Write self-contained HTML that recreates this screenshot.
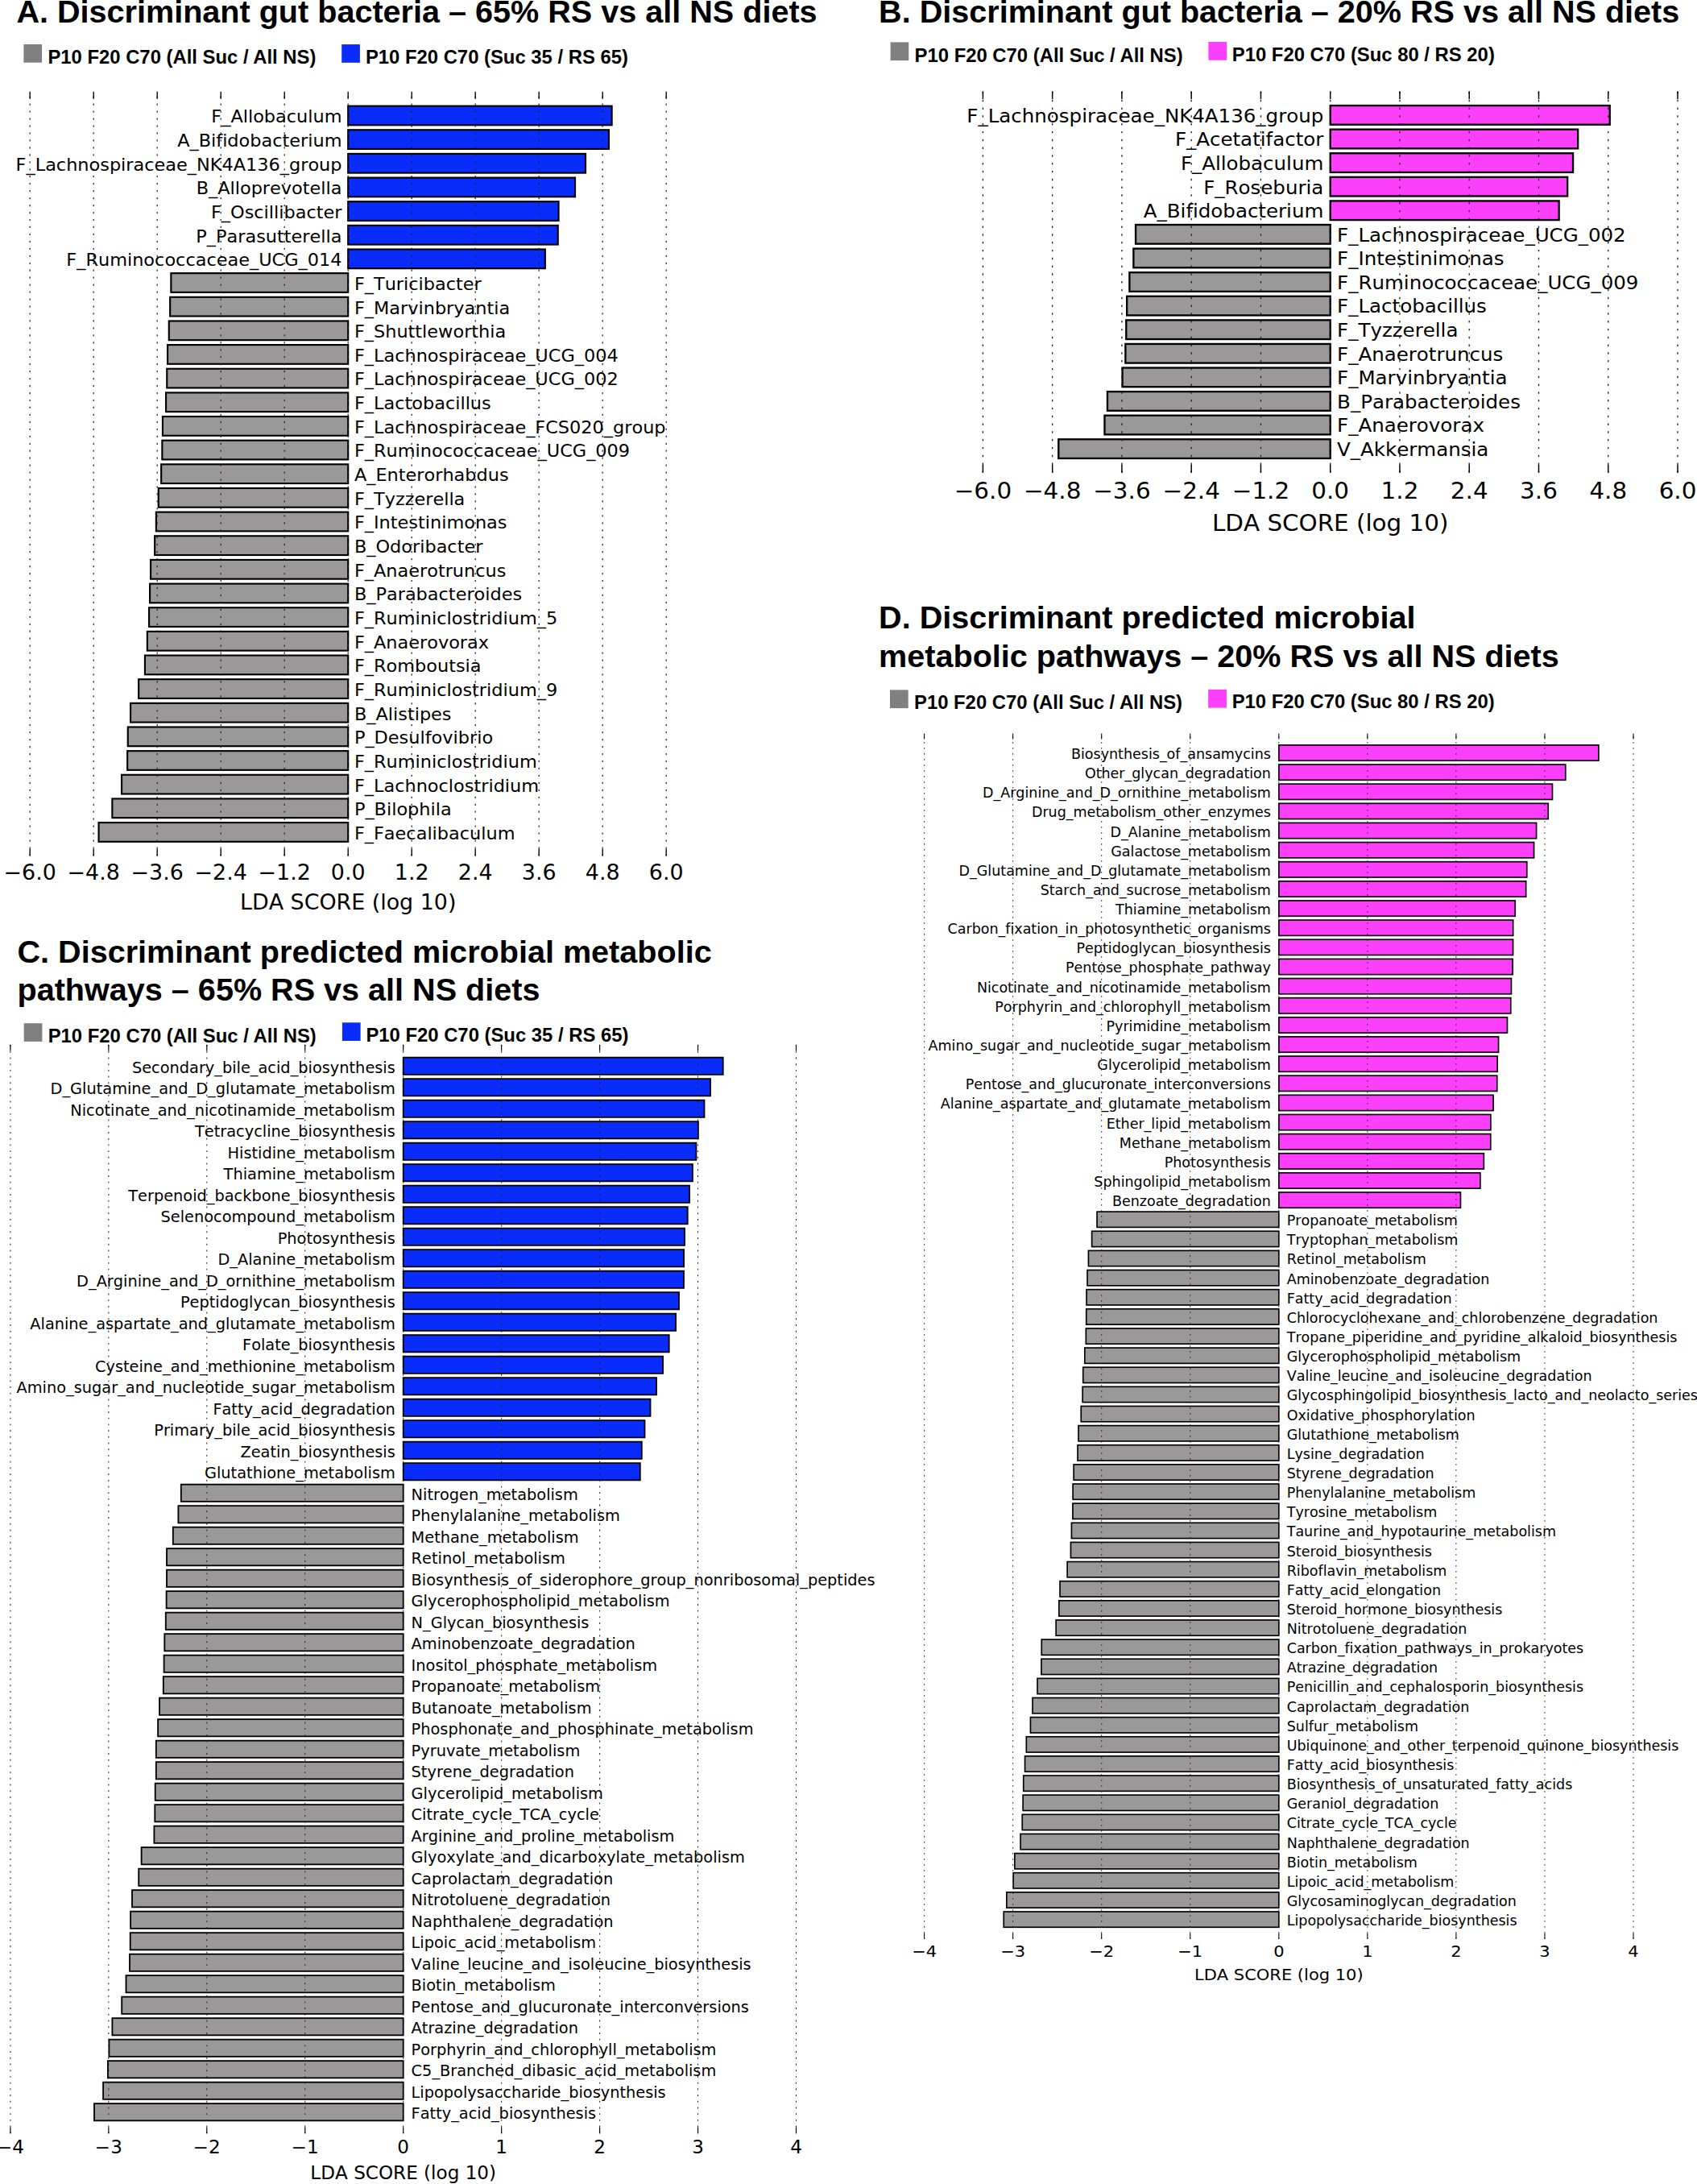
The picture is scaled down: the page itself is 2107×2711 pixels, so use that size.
<!DOCTYPE html>
<html lang="en"><head><meta charset="utf-8"><title>LEfSe discriminant gut bacteria and pathways</title>
<style>
html,body{margin:0;padding:0;background:#fff}
body{width:2107px;height:2711px;overflow:hidden}
svg{display:block}
.dv{font-family:"DejaVu Sans","Liberation Sans",sans-serif;fill:#000;font-kerning:none;font-variant-ligatures:none;font-feature-settings:"kern" 0,"liga" 0}
.ar{font-family:"Liberation Sans","DejaVu Sans",sans-serif;font-weight:bold;fill:#000}
</style></head><body>
<svg width="2107" height="2711" viewBox="0 0 2107 2711">
<rect width="2107" height="2711" fill="#fff"/>
<g stroke="#000" stroke-width="2.13"><rect x="432.2" y="131.59" width="327.44" height="23.72" fill="#0a2cfb"/><rect x="432.2" y="161.24" width="323.74" height="23.72" fill="#0a2cfb"/><rect x="432.2" y="190.89" width="294.84" height="23.72" fill="#0a2cfb"/><rect x="432.2" y="220.54" width="281.84" height="23.72" fill="#0a2cfb"/><rect x="432.2" y="250.19" width="261.34" height="23.72" fill="#0a2cfb"/><rect x="432.2" y="279.84" width="260.54" height="23.72" fill="#0a2cfb"/><rect x="432.2" y="309.49" width="244.64" height="23.72" fill="#0a2cfb"/><rect x="212.36" y="339.14" width="219.84" height="23.72" fill="#9a9898"/><rect x="211.16" y="368.79" width="221.04" height="23.72" fill="#9a9898"/><rect x="209.76" y="398.44" width="222.44" height="23.72" fill="#9a9898"/><rect x="208.06" y="428.09" width="224.14" height="23.72" fill="#9a9898"/><rect x="207.26" y="457.74" width="224.94" height="23.72" fill="#9a9898"/><rect x="206.06" y="487.39" width="226.14" height="23.72" fill="#9a9898"/><rect x="201.96" y="517.04" width="230.24" height="23.72" fill="#9a9898"/><rect x="201.36" y="546.69" width="230.84" height="23.72" fill="#9a9898"/><rect x="200.16" y="576.34" width="232.04" height="23.72" fill="#9a9898"/><rect x="196.76" y="605.99" width="235.44" height="23.72" fill="#9a9898"/><rect x="193.86" y="635.64" width="238.34" height="23.72" fill="#9a9898"/><rect x="192.16" y="665.29" width="240.04" height="23.72" fill="#9a9898"/><rect x="187.06" y="694.94" width="245.14" height="23.72" fill="#9a9898"/><rect x="186.06" y="724.59" width="246.14" height="23.72" fill="#9a9898"/><rect x="185.06" y="754.24" width="247.14" height="23.72" fill="#9a9898"/><rect x="182.86" y="783.89" width="249.34" height="23.72" fill="#9a9898"/><rect x="179.96" y="813.54" width="252.24" height="23.72" fill="#9a9898"/><rect x="172.16" y="843.19" width="260.04" height="23.72" fill="#9a9898"/><rect x="162.06" y="872.84" width="270.14" height="23.72" fill="#9a9898"/><rect x="158.76" y="902.49" width="273.44" height="23.72" fill="#9a9898"/><rect x="158.16" y="932.14" width="274.04" height="23.72" fill="#9a9898"/><rect x="151.06" y="961.79" width="281.14" height="23.72" fill="#9a9898"/><rect x="139.36" y="991.44" width="292.84" height="23.72" fill="#9a9898"/><rect x="122.56" y="1021.09" width="309.64" height="23.72" fill="#9a9898"/></g>
<path d="M37.2 1062.6V113.8M116.2 1062.6V113.8M195.2 1062.6V113.8M274.2 1062.6V113.8M353.2 1062.6V113.8M432.2 1062.6V113.8M511.2 1062.6V113.8M590.2 1062.6V113.8M669.2 1062.6V113.8M748.2 1062.6V113.8M827.2 1062.6V113.8" stroke="#222" stroke-width="1.23" stroke-dasharray="2.24 6.72" fill="none"/>
<path d="M37.2 1062.6v-8.96M37.2 113.8v8.96M116.2 1062.6v-8.96M116.2 113.8v8.96M195.2 1062.6v-8.96M195.2 113.8v8.96M274.2 1062.6v-8.96M274.2 113.8v8.96M353.2 1062.6v-8.96M353.2 113.8v8.96M432.2 1062.6v-8.96M432.2 113.8v8.96M511.2 1062.6v-8.96M511.2 113.8v8.96M590.2 1062.6v-8.96M590.2 113.8v8.96M669.2 1062.6v-8.96M669.2 113.8v8.96M748.2 1062.6v-8.96M748.2 113.8v8.96M827.2 1062.6v-8.96M827.2 113.8v8.96" stroke="#000" stroke-width="1.34" fill="none"/>
<text class="dv" transform="translate(424.5 152.34) scale(1.0395 1)" font-size="21.55" text-anchor="end">F_Allobaculum</text><text class="dv" transform="translate(424.5 182) scale(1.0395 1)" font-size="21.55" text-anchor="end">A_Bifidobacterium</text><text class="dv" transform="translate(424.5 211.65) scale(1.0395 1)" font-size="21.55" text-anchor="end">F_Lachnospiraceae_NK4A136_group</text><text class="dv" transform="translate(424.5 241.29) scale(1.0395 1)" font-size="21.55" text-anchor="end">B_Alloprevotella</text><text class="dv" transform="translate(424.5 270.94) scale(1.0395 1)" font-size="21.55" text-anchor="end">F_Oscillibacter</text><text class="dv" transform="translate(424.5 300.59) scale(1.0395 1)" font-size="21.55" text-anchor="end">P_Parasutterella</text><text class="dv" transform="translate(424.5 330.24) scale(1.0395 1)" font-size="21.55" text-anchor="end">F_Ruminococcaceae_UCG_014</text><text class="dv" transform="translate(439.9 359.89) scale(1.0395 1)" font-size="21.55" text-anchor="start">F_Turicibacter</text><text class="dv" transform="translate(439.9 389.54) scale(1.0395 1)" font-size="21.55" text-anchor="start">F_Marvinbryantia</text><text class="dv" transform="translate(439.9 419.19) scale(1.0395 1)" font-size="21.55" text-anchor="start">F_Shuttleworthia</text><text class="dv" transform="translate(439.9 448.84) scale(1.0395 1)" font-size="21.55" text-anchor="start">F_Lachnospiraceae_UCG_004</text><text class="dv" transform="translate(439.9 478.49) scale(1.0395 1)" font-size="21.55" text-anchor="start">F_Lachnospiraceae_UCG_002</text><text class="dv" transform="translate(439.9 508.14) scale(1.0395 1)" font-size="21.55" text-anchor="start">F_Lactobacillus</text><text class="dv" transform="translate(439.9 537.79) scale(1.0395 1)" font-size="21.55" text-anchor="start">F_Lachnospiraceae_FCS020_group</text><text class="dv" transform="translate(439.9 567.44) scale(1.0395 1)" font-size="21.55" text-anchor="start">F_Ruminococcaceae_UCG_009</text><text class="dv" transform="translate(439.9 597.09) scale(1.0395 1)" font-size="21.55" text-anchor="start">A_Enterorhabdus</text><text class="dv" transform="translate(439.9 626.74) scale(1.0395 1)" font-size="21.55" text-anchor="start">F_Tyzzerella</text><text class="dv" transform="translate(439.9 656.39) scale(1.0395 1)" font-size="21.55" text-anchor="start">F_Intestinimonas</text><text class="dv" transform="translate(439.9 686.04) scale(1.0395 1)" font-size="21.55" text-anchor="start">B_Odoribacter</text><text class="dv" transform="translate(439.9 715.69) scale(1.0395 1)" font-size="21.55" text-anchor="start">F_Anaerotruncus</text><text class="dv" transform="translate(439.9 745.34) scale(1.0395 1)" font-size="21.55" text-anchor="start">B_Parabacteroides</text><text class="dv" transform="translate(439.9 774.99) scale(1.0395 1)" font-size="21.55" text-anchor="start">F_Ruminiclostridium_5</text><text class="dv" transform="translate(439.9 804.64) scale(1.0395 1)" font-size="21.55" text-anchor="start">F_Anaerovorax</text><text class="dv" transform="translate(439.9 834.29) scale(1.0395 1)" font-size="21.55" text-anchor="start">F_Romboutsia</text><text class="dv" transform="translate(439.9 863.94) scale(1.0395 1)" font-size="21.55" text-anchor="start">F_Ruminiclostridium_9</text><text class="dv" transform="translate(439.9 893.59) scale(1.0395 1)" font-size="21.55" text-anchor="start">B_Alistipes</text><text class="dv" transform="translate(439.9 923.24) scale(1.0395 1)" font-size="21.55" text-anchor="start">P_Desulfovibrio</text><text class="dv" transform="translate(439.9 952.89) scale(1.0395 1)" font-size="21.55" text-anchor="start">F_Ruminiclostridium</text><text class="dv" transform="translate(439.9 982.54) scale(1.0395 1)" font-size="21.55" text-anchor="start">F_Lachnoclostridium</text><text class="dv" transform="translate(439.9 1012.19) scale(1.0395 1)" font-size="21.55" text-anchor="start">P_Bilophila</text><text class="dv" transform="translate(439.9 1041.85) scale(1.0395 1)" font-size="21.55" text-anchor="start">F_Faecalibaculum</text>
<text class="dv" transform="translate(37.2 1092) scale(1.0395 1)" font-size="25.86" text-anchor="middle">−6.0</text>
<text class="dv" transform="translate(116.2 1092) scale(1.0395 1)" font-size="25.86" text-anchor="middle">−4.8</text>
<text class="dv" transform="translate(195.2 1092) scale(1.0395 1)" font-size="25.86" text-anchor="middle">−3.6</text>
<text class="dv" transform="translate(274.2 1092) scale(1.0395 1)" font-size="25.86" text-anchor="middle">−2.4</text>
<text class="dv" transform="translate(353.2 1092) scale(1.0395 1)" font-size="25.86" text-anchor="middle">−1.2</text>
<text class="dv" transform="translate(432.2 1092) scale(1.0395 1)" font-size="25.86" text-anchor="middle">0.0</text>
<text class="dv" transform="translate(511.2 1092) scale(1.0395 1)" font-size="25.86" text-anchor="middle">1.2</text>
<text class="dv" transform="translate(590.2 1092) scale(1.0395 1)" font-size="25.86" text-anchor="middle">2.4</text>
<text class="dv" transform="translate(669.2 1092) scale(1.0395 1)" font-size="25.86" text-anchor="middle">3.6</text>
<text class="dv" transform="translate(748.2 1092) scale(1.0395 1)" font-size="25.86" text-anchor="middle">4.8</text>
<text class="dv" transform="translate(827.2 1092) scale(1.0395 1)" font-size="25.86" text-anchor="middle">6.0</text>
<text class="dv" transform="translate(432.2 1129) scale(1.0395 1)" font-size="25.86" text-anchor="middle">LDA SCORE (log 10)</text>
<g stroke="#000" stroke-width="2.33"><rect x="1651.7" y="131.05" width="347.04" height="23.67" fill="#fb3ffa"/><rect x="1651.7" y="160.64" width="307.44" height="23.67" fill="#fb3ffa"/><rect x="1651.7" y="190.23" width="301.34" height="23.67" fill="#fb3ffa"/><rect x="1651.7" y="219.82" width="294.44" height="23.67" fill="#fb3ffa"/><rect x="1651.7" y="249.41" width="283.94" height="23.67" fill="#fb3ffa"/><rect x="1410.06" y="279" width="241.64" height="23.67" fill="#9a9898"/><rect x="1407.36" y="308.59" width="244.34" height="23.67" fill="#9a9898"/><rect x="1402.36" y="338.18" width="249.34" height="23.67" fill="#9a9898"/><rect x="1399.16" y="367.77" width="252.54" height="23.67" fill="#9a9898"/><rect x="1398.26" y="397.36" width="253.44" height="23.67" fill="#9a9898"/><rect x="1397.36" y="426.95" width="254.34" height="23.67" fill="#9a9898"/><rect x="1393.56" y="456.54" width="258.14" height="23.67" fill="#9a9898"/><rect x="1374.96" y="486.13" width="276.74" height="23.67" fill="#9a9898"/><rect x="1371.46" y="515.72" width="280.24" height="23.67" fill="#9a9898"/><rect x="1314.26" y="545.31" width="337.44" height="23.67" fill="#9a9898"/></g>
<path d="M1220.4 586.74V113.3M1306.66 586.74V113.3M1392.92 586.74V113.3M1479.18 586.74V113.3M1565.44 586.74V113.3M1651.7 586.74V113.3M1737.96 586.74V113.3M1824.22 586.74V113.3M1910.48 586.74V113.3M1996.74 586.74V113.3M2083 586.74V113.3" stroke="#222" stroke-width="1.35" stroke-dasharray="2.45 7.35" fill="none"/>
<path d="M1220.4 586.74v-9.8M1220.4 113.3v9.8M1306.66 586.74v-9.8M1306.66 113.3v9.8M1392.92 586.74v-9.8M1392.92 113.3v9.8M1479.18 586.74v-9.8M1479.18 113.3v9.8M1565.44 586.74v-9.8M1565.44 113.3v9.8M1651.7 586.74v-9.8M1651.7 113.3v9.8M1737.96 586.74v-9.8M1737.96 113.3v9.8M1824.22 586.74v-9.8M1824.22 113.3v9.8M1910.48 586.74v-9.8M1910.48 113.3v9.8M1996.74 586.74v-9.8M1996.74 113.3v9.8M2083 586.74v-9.8M2083 113.3v9.8" stroke="#000" stroke-width="1.47" fill="none"/>
<text class="dv" transform="translate(1643.3 151.77) scale(1.0395 1)" font-size="23.57" text-anchor="end">F_Lachnospiraceae_NK4A136_group</text><text class="dv" transform="translate(1643.3 181.36) scale(1.0395 1)" font-size="23.57" text-anchor="end">F_Acetatifactor</text><text class="dv" transform="translate(1643.3 210.95) scale(1.0395 1)" font-size="23.57" text-anchor="end">F_Allobaculum</text><text class="dv" transform="translate(1643.3 240.54) scale(1.0395 1)" font-size="23.57" text-anchor="end">F_Roseburia</text><text class="dv" transform="translate(1643.3 270.13) scale(1.0395 1)" font-size="23.57" text-anchor="end">A_Bifidobacterium</text><text class="dv" transform="translate(1660.1 299.72) scale(1.0395 1)" font-size="23.57" text-anchor="start">F_Lachnospiraceae_UCG_002</text><text class="dv" transform="translate(1660.1 329.31) scale(1.0395 1)" font-size="23.57" text-anchor="start">F_Intestinimonas</text><text class="dv" transform="translate(1660.1 358.9) scale(1.0395 1)" font-size="23.57" text-anchor="start">F_Ruminococcaceae_UCG_009</text><text class="dv" transform="translate(1660.1 388.49) scale(1.0395 1)" font-size="23.57" text-anchor="start">F_Lactobacillus</text><text class="dv" transform="translate(1660.1 418.08) scale(1.0395 1)" font-size="23.57" text-anchor="start">F_Tyzzerella</text><text class="dv" transform="translate(1660.1 447.67) scale(1.0395 1)" font-size="23.57" text-anchor="start">F_Anaerotruncus</text><text class="dv" transform="translate(1660.1 477.26) scale(1.0395 1)" font-size="23.57" text-anchor="start">F_Marvinbryantia</text><text class="dv" transform="translate(1660.1 506.85) scale(1.0395 1)" font-size="23.57" text-anchor="start">B_Parabacteroides</text><text class="dv" transform="translate(1660.1 536.44) scale(1.0395 1)" font-size="23.57" text-anchor="start">F_Anaerovorax</text><text class="dv" transform="translate(1660.1 566.03) scale(1.0395 1)" font-size="23.57" text-anchor="start">V_Akkermansia</text>
<text class="dv" transform="translate(1220.4 618.5) scale(1.0395 1)" font-size="28.28" text-anchor="middle">−6.0</text>
<text class="dv" transform="translate(1306.66 618.5) scale(1.0395 1)" font-size="28.28" text-anchor="middle">−4.8</text>
<text class="dv" transform="translate(1392.92 618.5) scale(1.0395 1)" font-size="28.28" text-anchor="middle">−3.6</text>
<text class="dv" transform="translate(1479.18 618.5) scale(1.0395 1)" font-size="28.28" text-anchor="middle">−2.4</text>
<text class="dv" transform="translate(1565.44 618.5) scale(1.0395 1)" font-size="28.28" text-anchor="middle">−1.2</text>
<text class="dv" transform="translate(1651.7 618.5) scale(1.0395 1)" font-size="28.28" text-anchor="middle">0.0</text>
<text class="dv" transform="translate(1737.96 618.5) scale(1.0395 1)" font-size="28.28" text-anchor="middle">1.2</text>
<text class="dv" transform="translate(1824.22 618.5) scale(1.0395 1)" font-size="28.28" text-anchor="middle">2.4</text>
<text class="dv" transform="translate(1910.48 618.5) scale(1.0395 1)" font-size="28.28" text-anchor="middle">3.6</text>
<text class="dv" transform="translate(1996.74 618.5) scale(1.0395 1)" font-size="28.28" text-anchor="middle">4.8</text>
<text class="dv" transform="translate(2083 618.5) scale(1.0395 1)" font-size="28.28" text-anchor="middle">6.0</text>
<text class="dv" transform="translate(1651.7 659) scale(1.0395 1)" font-size="28.28" text-anchor="middle">LDA SCORE (log 10)</text>
<g stroke="#000" stroke-width="1.83"><rect x="500.7" y="1312.65" width="396.99" height="21.2" fill="#0a2cfb"/><rect x="500.7" y="1339.15" width="381.29" height="21.2" fill="#0a2cfb"/><rect x="500.7" y="1365.65" width="373.79" height="21.2" fill="#0a2cfb"/><rect x="500.7" y="1392.15" width="366.19" height="21.2" fill="#0a2cfb"/><rect x="500.7" y="1418.65" width="363.69" height="21.2" fill="#0a2cfb"/><rect x="500.7" y="1445.15" width="359.19" height="21.2" fill="#0a2cfb"/><rect x="500.7" y="1471.65" width="355.29" height="21.2" fill="#0a2cfb"/><rect x="500.7" y="1498.15" width="352.99" height="21.2" fill="#0a2cfb"/><rect x="500.7" y="1524.65" width="349.29" height="21.2" fill="#0a2cfb"/><rect x="500.7" y="1551.15" width="348.39" height="21.2" fill="#0a2cfb"/><rect x="500.7" y="1577.65" width="348.29" height="21.2" fill="#0a2cfb"/><rect x="500.7" y="1604.15" width="342.29" height="21.2" fill="#0a2cfb"/><rect x="500.7" y="1630.65" width="338.39" height="21.2" fill="#0a2cfb"/><rect x="500.7" y="1657.15" width="329.99" height="21.2" fill="#0a2cfb"/><rect x="500.7" y="1683.65" width="322.39" height="21.2" fill="#0a2cfb"/><rect x="500.7" y="1710.15" width="314.29" height="21.2" fill="#0a2cfb"/><rect x="500.7" y="1736.65" width="306.79" height="21.2" fill="#0a2cfb"/><rect x="500.7" y="1763.15" width="299.79" height="21.2" fill="#0a2cfb"/><rect x="500.7" y="1789.65" width="296.09" height="21.2" fill="#0a2cfb"/><rect x="500.7" y="1816.15" width="294.09" height="21.2" fill="#0a2cfb"/><rect x="224.81" y="1842.65" width="275.89" height="21.2" fill="#9a9898"/><rect x="221.41" y="1869.15" width="279.29" height="21.2" fill="#9a9898"/><rect x="214.81" y="1895.65" width="285.89" height="21.2" fill="#9a9898"/><rect x="207.01" y="1922.15" width="293.69" height="21.2" fill="#9a9898"/><rect x="207.01" y="1948.65" width="293.69" height="21.2" fill="#9a9898"/><rect x="206.61" y="1975.15" width="294.09" height="21.2" fill="#9a9898"/><rect x="205.81" y="2001.65" width="294.89" height="21.2" fill="#9a9898"/><rect x="204.31" y="2028.15" width="296.39" height="21.2" fill="#9a9898"/><rect x="203.61" y="2054.65" width="297.09" height="21.2" fill="#9a9898"/><rect x="202.81" y="2081.15" width="297.89" height="21.2" fill="#9a9898"/><rect x="198.01" y="2107.65" width="302.69" height="21.2" fill="#9a9898"/><rect x="196.11" y="2134.15" width="304.59" height="21.2" fill="#9a9898"/><rect x="193.81" y="2160.65" width="306.89" height="21.2" fill="#9a9898"/><rect x="193.81" y="2187.15" width="306.89" height="21.2" fill="#9a9898"/><rect x="192.71" y="2213.65" width="307.99" height="21.2" fill="#9a9898"/><rect x="192.31" y="2240.15" width="308.39" height="21.2" fill="#9a9898"/><rect x="191.41" y="2266.65" width="309.29" height="21.2" fill="#9a9898"/><rect x="175.61" y="2293.15" width="325.09" height="21.2" fill="#9a9898"/><rect x="172.21" y="2319.65" width="328.49" height="21.2" fill="#9a9898"/><rect x="164.01" y="2346.15" width="336.69" height="21.2" fill="#9a9898"/><rect x="162.11" y="2372.65" width="338.59" height="21.2" fill="#9a9898"/><rect x="161.71" y="2399.15" width="338.99" height="21.2" fill="#9a9898"/><rect x="161.01" y="2425.65" width="339.69" height="21.2" fill="#9a9898"/><rect x="156.51" y="2452.15" width="344.19" height="21.2" fill="#9a9898"/><rect x="151.21" y="2478.65" width="349.49" height="21.2" fill="#9a9898"/><rect x="139.41" y="2505.15" width="361.29" height="21.2" fill="#9a9898"/><rect x="135.41" y="2531.65" width="365.29" height="21.2" fill="#9a9898"/><rect x="133.91" y="2558.15" width="366.79" height="21.2" fill="#9a9898"/><rect x="128.11" y="2584.65" width="372.59" height="21.2" fill="#9a9898"/><rect x="117.01" y="2611.15" width="383.69" height="21.2" fill="#9a9898"/></g>
<path d="M12.9 2648.25V1296.75M134.85 2648.25V1296.75M256.8 2648.25V1296.75M378.75 2648.25V1296.75M500.7 2648.25V1296.75M622.65 2648.25V1296.75M744.6 2648.25V1296.75M866.55 2648.25V1296.75M988.5 2648.25V1296.75" stroke="#222" stroke-width="1.06" stroke-dasharray="1.93 5.78" fill="none"/>
<path d="M12.9 2648.25v-7.7M12.9 1296.75v7.7M134.85 2648.25v-7.7M134.85 1296.75v7.7M256.8 2648.25v-7.7M256.8 1296.75v7.7M378.75 2648.25v-7.7M378.75 1296.75v7.7M500.7 2648.25v-7.7M500.7 1296.75v7.7M622.65 2648.25v-7.7M622.65 1296.75v7.7M744.6 2648.25v-7.7M744.6 1296.75v7.7M866.55 2648.25v-7.7M866.55 1296.75v7.7M988.5 2648.25v-7.7M988.5 1296.75v7.7" stroke="#000" stroke-width="1.16" fill="none"/>
<text class="dv" transform="translate(490.8 1331.75) scale(1.0395 1)" font-size="18.61" text-anchor="end">Secondary_bile_acid_biosynthesis</text><text class="dv" transform="translate(490.8 1358.25) scale(1.0395 1)" font-size="18.61" text-anchor="end">D_Glutamine_and_D_glutamate_metabolism</text><text class="dv" transform="translate(490.8 1384.75) scale(1.0395 1)" font-size="18.61" text-anchor="end">Nicotinate_and_nicotinamide_metabolism</text><text class="dv" transform="translate(490.8 1411.25) scale(1.0395 1)" font-size="18.61" text-anchor="end">Tetracycline_biosynthesis</text><text class="dv" transform="translate(490.8 1437.75) scale(1.0395 1)" font-size="18.61" text-anchor="end">Histidine_metabolism</text><text class="dv" transform="translate(490.8 1464.25) scale(1.0395 1)" font-size="18.61" text-anchor="end">Thiamine_metabolism</text><text class="dv" transform="translate(490.8 1490.75) scale(1.0395 1)" font-size="18.61" text-anchor="end">Terpenoid_backbone_biosynthesis</text><text class="dv" transform="translate(490.8 1517.25) scale(1.0395 1)" font-size="18.61" text-anchor="end">Selenocompound_metabolism</text><text class="dv" transform="translate(490.8 1543.75) scale(1.0395 1)" font-size="18.61" text-anchor="end">Photosynthesis</text><text class="dv" transform="translate(490.8 1570.25) scale(1.0395 1)" font-size="18.61" text-anchor="end">D_Alanine_metabolism</text><text class="dv" transform="translate(490.8 1596.75) scale(1.0395 1)" font-size="18.61" text-anchor="end">D_Arginine_and_D_ornithine_metabolism</text><text class="dv" transform="translate(490.8 1623.25) scale(1.0395 1)" font-size="18.61" text-anchor="end">Peptidoglycan_biosynthesis</text><text class="dv" transform="translate(490.8 1649.75) scale(1.0395 1)" font-size="18.61" text-anchor="end">Alanine_aspartate_and_glutamate_metabolism</text><text class="dv" transform="translate(490.8 1676.25) scale(1.0395 1)" font-size="18.61" text-anchor="end">Folate_biosynthesis</text><text class="dv" transform="translate(490.8 1702.75) scale(1.0395 1)" font-size="18.61" text-anchor="end">Cysteine_and_methionine_metabolism</text><text class="dv" transform="translate(490.8 1729.25) scale(1.0395 1)" font-size="18.61" text-anchor="end">Amino_sugar_and_nucleotide_sugar_metabolism</text><text class="dv" transform="translate(490.8 1755.75) scale(1.0395 1)" font-size="18.61" text-anchor="end">Fatty_acid_degradation</text><text class="dv" transform="translate(490.8 1782.25) scale(1.0395 1)" font-size="18.61" text-anchor="end">Primary_bile_acid_biosynthesis</text><text class="dv" transform="translate(490.8 1808.75) scale(1.0395 1)" font-size="18.61" text-anchor="end">Zeatin_biosynthesis</text><text class="dv" transform="translate(490.8 1835.25) scale(1.0395 1)" font-size="18.61" text-anchor="end">Glutathione_metabolism</text><text class="dv" transform="translate(510.6 1861.75) scale(1.0395 1)" font-size="18.61" text-anchor="start">Nitrogen_metabolism</text><text class="dv" transform="translate(510.6 1888.25) scale(1.0395 1)" font-size="18.61" text-anchor="start">Phenylalanine_metabolism</text><text class="dv" transform="translate(510.6 1914.75) scale(1.0395 1)" font-size="18.61" text-anchor="start">Methane_metabolism</text><text class="dv" transform="translate(510.6 1941.25) scale(1.0395 1)" font-size="18.61" text-anchor="start">Retinol_metabolism</text><text class="dv" transform="translate(510.6 1967.75) scale(1.0395 1)" font-size="18.61" text-anchor="start">Biosynthesis_of_siderophore_group_nonribosomal_peptides</text><text class="dv" transform="translate(510.6 1994.25) scale(1.0395 1)" font-size="18.61" text-anchor="start">Glycerophospholipid_metabolism</text><text class="dv" transform="translate(510.6 2020.75) scale(1.0395 1)" font-size="18.61" text-anchor="start">N_Glycan_biosynthesis</text><text class="dv" transform="translate(510.6 2047.25) scale(1.0395 1)" font-size="18.61" text-anchor="start">Aminobenzoate_degradation</text><text class="dv" transform="translate(510.6 2073.75) scale(1.0395 1)" font-size="18.61" text-anchor="start">Inositol_phosphate_metabolism</text><text class="dv" transform="translate(510.6 2100.25) scale(1.0395 1)" font-size="18.61" text-anchor="start">Propanoate_metabolism</text><text class="dv" transform="translate(510.6 2126.75) scale(1.0395 1)" font-size="18.61" text-anchor="start">Butanoate_metabolism</text><text class="dv" transform="translate(510.6 2153.25) scale(1.0395 1)" font-size="18.61" text-anchor="start">Phosphonate_and_phosphinate_metabolism</text><text class="dv" transform="translate(510.6 2179.75) scale(1.0395 1)" font-size="18.61" text-anchor="start">Pyruvate_metabolism</text><text class="dv" transform="translate(510.6 2206.25) scale(1.0395 1)" font-size="18.61" text-anchor="start">Styrene_degradation</text><text class="dv" transform="translate(510.6 2232.75) scale(1.0395 1)" font-size="18.61" text-anchor="start">Glycerolipid_metabolism</text><text class="dv" transform="translate(510.6 2259.25) scale(1.0395 1)" font-size="18.61" text-anchor="start">Citrate_cycle_TCA_cycle</text><text class="dv" transform="translate(510.6 2285.75) scale(1.0395 1)" font-size="18.61" text-anchor="start">Arginine_and_proline_metabolism</text><text class="dv" transform="translate(510.6 2312.25) scale(1.0395 1)" font-size="18.61" text-anchor="start">Glyoxylate_and_dicarboxylate_metabolism</text><text class="dv" transform="translate(510.6 2338.75) scale(1.0395 1)" font-size="18.61" text-anchor="start">Caprolactam_degradation</text><text class="dv" transform="translate(510.6 2365.25) scale(1.0395 1)" font-size="18.61" text-anchor="start">Nitrotoluene_degradation</text><text class="dv" transform="translate(510.6 2391.75) scale(1.0395 1)" font-size="18.61" text-anchor="start">Naphthalene_degradation</text><text class="dv" transform="translate(510.6 2418.25) scale(1.0395 1)" font-size="18.61" text-anchor="start">Lipoic_acid_metabolism</text><text class="dv" transform="translate(510.6 2444.75) scale(1.0395 1)" font-size="18.61" text-anchor="start">Valine_leucine_and_isoleucine_biosynthesis</text><text class="dv" transform="translate(510.6 2471.25) scale(1.0395 1)" font-size="18.61" text-anchor="start">Biotin_metabolism</text><text class="dv" transform="translate(510.6 2497.75) scale(1.0395 1)" font-size="18.61" text-anchor="start">Pentose_and_glucuronate_interconversions</text><text class="dv" transform="translate(510.6 2524.25) scale(1.0395 1)" font-size="18.61" text-anchor="start">Atrazine_degradation</text><text class="dv" transform="translate(510.6 2550.75) scale(1.0395 1)" font-size="18.61" text-anchor="start">Porphyrin_and_chlorophyll_metabolism</text><text class="dv" transform="translate(510.6 2577.25) scale(1.0395 1)" font-size="18.61" text-anchor="start">C5_Branched_dibasic_acid_metabolism</text><text class="dv" transform="translate(510.6 2603.75) scale(1.0395 1)" font-size="18.61" text-anchor="start">Lipopolysaccharide_biosynthesis</text><text class="dv" transform="translate(510.6 2630.25) scale(1.0395 1)" font-size="18.61" text-anchor="start">Fatty_acid_biosynthesis</text>
<text class="dv" transform="translate(12.9 2673.2) scale(1.0395 1)" font-size="22.22" text-anchor="middle">−4</text>
<text class="dv" transform="translate(134.85 2673.2) scale(1.0395 1)" font-size="22.22" text-anchor="middle">−3</text>
<text class="dv" transform="translate(256.8 2673.2) scale(1.0395 1)" font-size="22.22" text-anchor="middle">−2</text>
<text class="dv" transform="translate(378.75 2673.2) scale(1.0395 1)" font-size="22.22" text-anchor="middle">−1</text>
<text class="dv" transform="translate(500.7 2673.2) scale(1.0395 1)" font-size="22.22" text-anchor="middle">0</text>
<text class="dv" transform="translate(622.65 2673.2) scale(1.0395 1)" font-size="22.22" text-anchor="middle">1</text>
<text class="dv" transform="translate(744.6 2673.2) scale(1.0395 1)" font-size="22.22" text-anchor="middle">2</text>
<text class="dv" transform="translate(866.55 2673.2) scale(1.0395 1)" font-size="22.22" text-anchor="middle">3</text>
<text class="dv" transform="translate(988.5 2673.2) scale(1.0395 1)" font-size="22.22" text-anchor="middle">4</text>
<text class="dv" transform="translate(500.7 2705) scale(1.0395 1)" font-size="22.22" text-anchor="middle">LDA SCORE (log 10)</text>
<g stroke="#000" stroke-width="1.66"><rect x="1587.8" y="924.88" width="397.07" height="19.31" fill="#fb3ffa"/><rect x="1587.8" y="949.02" width="355.97" height="19.31" fill="#fb3ffa"/><rect x="1587.8" y="973.15" width="339.67" height="19.31" fill="#fb3ffa"/><rect x="1587.8" y="997.29" width="334.47" height="19.31" fill="#fb3ffa"/><rect x="1587.8" y="1021.42" width="319.77" height="19.31" fill="#fb3ffa"/><rect x="1587.8" y="1045.56" width="316.77" height="19.31" fill="#fb3ffa"/><rect x="1587.8" y="1069.69" width="307.97" height="19.31" fill="#fb3ffa"/><rect x="1587.8" y="1093.83" width="306.87" height="19.31" fill="#fb3ffa"/><rect x="1587.8" y="1117.96" width="293.47" height="19.31" fill="#fb3ffa"/><rect x="1587.8" y="1142.1" width="290.87" height="19.31" fill="#fb3ffa"/><rect x="1587.8" y="1166.23" width="290.77" height="19.31" fill="#fb3ffa"/><rect x="1587.8" y="1190.37" width="290.37" height="19.31" fill="#fb3ffa"/><rect x="1587.8" y="1214.5" width="288.67" height="19.31" fill="#fb3ffa"/><rect x="1587.8" y="1238.64" width="287.97" height="19.31" fill="#fb3ffa"/><rect x="1587.8" y="1262.77" width="283.67" height="19.31" fill="#fb3ffa"/><rect x="1587.8" y="1286.91" width="272.77" height="19.31" fill="#fb3ffa"/><rect x="1587.8" y="1311.04" width="271.37" height="19.31" fill="#fb3ffa"/><rect x="1587.8" y="1335.18" width="270.97" height="19.31" fill="#fb3ffa"/><rect x="1587.8" y="1359.31" width="266.27" height="19.31" fill="#fb3ffa"/><rect x="1587.8" y="1383.45" width="263.07" height="19.31" fill="#fb3ffa"/><rect x="1587.8" y="1407.58" width="262.97" height="19.31" fill="#fb3ffa"/><rect x="1587.8" y="1431.72" width="254.57" height="19.31" fill="#fb3ffa"/><rect x="1587.8" y="1455.85" width="250.07" height="19.31" fill="#fb3ffa"/><rect x="1587.8" y="1479.99" width="225.67" height="19.31" fill="#fb3ffa"/><rect x="1362.03" y="1504.12" width="225.77" height="19.31" fill="#9a9898"/><rect x="1355.63" y="1528.26" width="232.17" height="19.31" fill="#9a9898"/><rect x="1351.43" y="1552.39" width="236.37" height="19.31" fill="#9a9898"/><rect x="1350.03" y="1576.53" width="237.77" height="19.31" fill="#9a9898"/><rect x="1349.03" y="1600.66" width="238.77" height="19.31" fill="#9a9898"/><rect x="1348.73" y="1624.8" width="239.07" height="19.31" fill="#9a9898"/><rect x="1348.33" y="1648.93" width="239.47" height="19.31" fill="#9a9898"/><rect x="1346.83" y="1673.07" width="240.97" height="19.31" fill="#9a9898"/><rect x="1344.73" y="1697.2" width="243.07" height="19.31" fill="#9a9898"/><rect x="1344.13" y="1721.34" width="243.67" height="19.31" fill="#9a9898"/><rect x="1342.23" y="1745.47" width="245.57" height="19.31" fill="#9a9898"/><rect x="1339.03" y="1769.61" width="248.77" height="19.31" fill="#9a9898"/><rect x="1338.03" y="1793.74" width="249.77" height="19.31" fill="#9a9898"/><rect x="1333.13" y="1817.88" width="254.67" height="19.31" fill="#9a9898"/><rect x="1332.13" y="1842.01" width="255.67" height="19.31" fill="#9a9898"/><rect x="1331.93" y="1866.15" width="255.87" height="19.31" fill="#9a9898"/><rect x="1330.43" y="1890.28" width="257.37" height="19.31" fill="#9a9898"/><rect x="1329.43" y="1914.42" width="258.37" height="19.31" fill="#9a9898"/><rect x="1325.13" y="1938.55" width="262.67" height="19.31" fill="#9a9898"/><rect x="1316.03" y="1962.69" width="271.77" height="19.31" fill="#9a9898"/><rect x="1314.83" y="1986.82" width="272.97" height="19.31" fill="#9a9898"/><rect x="1311.13" y="2010.96" width="276.67" height="19.31" fill="#9a9898"/><rect x="1293.23" y="2035.09" width="294.57" height="19.31" fill="#9a9898"/><rect x="1292.93" y="2059.23" width="294.87" height="19.31" fill="#9a9898"/><rect x="1288.03" y="2083.36" width="299.77" height="19.31" fill="#9a9898"/><rect x="1282.03" y="2107.5" width="305.77" height="19.31" fill="#9a9898"/><rect x="1279.43" y="2131.63" width="308.37" height="19.31" fill="#9a9898"/><rect x="1274.33" y="2155.77" width="313.47" height="19.31" fill="#9a9898"/><rect x="1272.53" y="2179.9" width="315.27" height="19.31" fill="#9a9898"/><rect x="1270.73" y="2204.04" width="317.07" height="19.31" fill="#9a9898"/><rect x="1270.13" y="2228.17" width="317.67" height="19.31" fill="#9a9898"/><rect x="1269.23" y="2252.31" width="318.57" height="19.31" fill="#9a9898"/><rect x="1267.03" y="2276.44" width="320.77" height="19.31" fill="#9a9898"/><rect x="1259.83" y="2300.58" width="327.97" height="19.31" fill="#9a9898"/><rect x="1258.13" y="2324.71" width="329.67" height="19.31" fill="#9a9898"/><rect x="1249.83" y="2348.85" width="337.97" height="19.31" fill="#9a9898"/><rect x="1246.23" y="2372.98" width="341.57" height="19.31" fill="#9a9898"/></g>
<path d="M1147.6 2406.77V910.4M1257.65 2406.77V910.4M1367.7 2406.77V910.4M1477.75 2406.77V910.4M1587.8 2406.77V910.4M1697.85 2406.77V910.4M1807.9 2406.77V910.4M1917.95 2406.77V910.4M2028 2406.77V910.4" stroke="#222" stroke-width="0.96" stroke-dasharray="1.75 5.25" fill="none"/>
<path d="M1147.6 2406.77v-7M1147.6 910.4v7M1257.65 2406.77v-7M1257.65 910.4v7M1367.7 2406.77v-7M1367.7 910.4v7M1477.75 2406.77v-7M1477.75 910.4v7M1587.8 2406.77v-7M1587.8 910.4v7M1697.85 2406.77v-7M1697.85 910.4v7M1807.9 2406.77v-7M1807.9 910.4v7M1917.95 2406.77v-7M1917.95 910.4v7M2028 2406.77v-7M2028 910.4v7" stroke="#000" stroke-width="1.05" fill="none"/>
<text class="dv" transform="translate(1577.9 941.98) scale(1.0395 1)" font-size="16.84" text-anchor="end">Biosynthesis_of_ansamycins</text><text class="dv" transform="translate(1577.9 966.11) scale(1.0395 1)" font-size="16.84" text-anchor="end">Other_glycan_degradation</text><text class="dv" transform="translate(1577.9 990.25) scale(1.0395 1)" font-size="16.84" text-anchor="end">D_Arginine_and_D_ornithine_metabolism</text><text class="dv" transform="translate(1577.9 1014.38) scale(1.0395 1)" font-size="16.84" text-anchor="end">Drug_metabolism_other_enzymes</text><text class="dv" transform="translate(1577.9 1038.52) scale(1.0395 1)" font-size="16.84" text-anchor="end">D_Alanine_metabolism</text><text class="dv" transform="translate(1577.9 1062.65) scale(1.0395 1)" font-size="16.84" text-anchor="end">Galactose_metabolism</text><text class="dv" transform="translate(1577.9 1086.79) scale(1.0395 1)" font-size="16.84" text-anchor="end">D_Glutamine_and_D_glutamate_metabolism</text><text class="dv" transform="translate(1577.9 1110.92) scale(1.0395 1)" font-size="16.84" text-anchor="end">Starch_and_sucrose_metabolism</text><text class="dv" transform="translate(1577.9 1135.06) scale(1.0395 1)" font-size="16.84" text-anchor="end">Thiamine_metabolism</text><text class="dv" transform="translate(1577.9 1159.19) scale(1.0395 1)" font-size="16.84" text-anchor="end">Carbon_fixation_in_photosynthetic_organisms</text><text class="dv" transform="translate(1577.9 1183.33) scale(1.0395 1)" font-size="16.84" text-anchor="end">Peptidoglycan_biosynthesis</text><text class="dv" transform="translate(1577.9 1207.46) scale(1.0395 1)" font-size="16.84" text-anchor="end">Pentose_phosphate_pathway</text><text class="dv" transform="translate(1577.9 1231.6) scale(1.0395 1)" font-size="16.84" text-anchor="end">Nicotinate_and_nicotinamide_metabolism</text><text class="dv" transform="translate(1577.9 1255.73) scale(1.0395 1)" font-size="16.84" text-anchor="end">Porphyrin_and_chlorophyll_metabolism</text><text class="dv" transform="translate(1577.9 1279.87) scale(1.0395 1)" font-size="16.84" text-anchor="end">Pyrimidine_metabolism</text><text class="dv" transform="translate(1577.9 1304) scale(1.0395 1)" font-size="16.84" text-anchor="end">Amino_sugar_and_nucleotide_sugar_metabolism</text><text class="dv" transform="translate(1577.9 1328.14) scale(1.0395 1)" font-size="16.84" text-anchor="end">Glycerolipid_metabolism</text><text class="dv" transform="translate(1577.9 1352.27) scale(1.0395 1)" font-size="16.84" text-anchor="end">Pentose_and_glucuronate_interconversions</text><text class="dv" transform="translate(1577.9 1376.41) scale(1.0395 1)" font-size="16.84" text-anchor="end">Alanine_aspartate_and_glutamate_metabolism</text><text class="dv" transform="translate(1577.9 1400.54) scale(1.0395 1)" font-size="16.84" text-anchor="end">Ether_lipid_metabolism</text><text class="dv" transform="translate(1577.9 1424.68) scale(1.0395 1)" font-size="16.84" text-anchor="end">Methane_metabolism</text><text class="dv" transform="translate(1577.9 1448.81) scale(1.0395 1)" font-size="16.84" text-anchor="end">Photosynthesis</text><text class="dv" transform="translate(1577.9 1472.95) scale(1.0395 1)" font-size="16.84" text-anchor="end">Sphingolipid_metabolism</text><text class="dv" transform="translate(1577.9 1497.08) scale(1.0395 1)" font-size="16.84" text-anchor="end">Benzoate_degradation</text><text class="dv" transform="translate(1597.7 1521.22) scale(1.0395 1)" font-size="16.84" text-anchor="start">Propanoate_metabolism</text><text class="dv" transform="translate(1597.7 1545.35) scale(1.0395 1)" font-size="16.84" text-anchor="start">Tryptophan_metabolism</text><text class="dv" transform="translate(1597.7 1569.49) scale(1.0395 1)" font-size="16.84" text-anchor="start">Retinol_metabolism</text><text class="dv" transform="translate(1597.7 1593.62) scale(1.0395 1)" font-size="16.84" text-anchor="start">Aminobenzoate_degradation</text><text class="dv" transform="translate(1597.7 1617.76) scale(1.0395 1)" font-size="16.84" text-anchor="start">Fatty_acid_degradation</text><text class="dv" transform="translate(1597.7 1641.89) scale(1.0395 1)" font-size="16.84" text-anchor="start">Chlorocyclohexane_and_chlorobenzene_degradation</text><text class="dv" transform="translate(1597.7 1666.03) scale(1.0395 1)" font-size="16.84" text-anchor="start">Tropane_piperidine_and_pyridine_alkaloid_biosynthesis</text><text class="dv" transform="translate(1597.7 1690.16) scale(1.0395 1)" font-size="16.84" text-anchor="start">Glycerophospholipid_metabolism</text><text class="dv" transform="translate(1597.7 1714.3) scale(1.0395 1)" font-size="16.84" text-anchor="start">Valine_leucine_and_isoleucine_degradation</text><text class="dv" transform="translate(1597.7 1738.43) scale(1.0395 1)" font-size="16.84" text-anchor="start">Glycosphingolipid_biosynthesis_lacto_and_neolacto_series</text><text class="dv" transform="translate(1597.7 1762.57) scale(1.0395 1)" font-size="16.84" text-anchor="start">Oxidative_phosphorylation</text><text class="dv" transform="translate(1597.7 1786.7) scale(1.0395 1)" font-size="16.84" text-anchor="start">Glutathione_metabolism</text><text class="dv" transform="translate(1597.7 1810.84) scale(1.0395 1)" font-size="16.84" text-anchor="start">Lysine_degradation</text><text class="dv" transform="translate(1597.7 1834.97) scale(1.0395 1)" font-size="16.84" text-anchor="start">Styrene_degradation</text><text class="dv" transform="translate(1597.7 1859.11) scale(1.0395 1)" font-size="16.84" text-anchor="start">Phenylalanine_metabolism</text><text class="dv" transform="translate(1597.7 1883.24) scale(1.0395 1)" font-size="16.84" text-anchor="start">Tyrosine_metabolism</text><text class="dv" transform="translate(1597.7 1907.38) scale(1.0395 1)" font-size="16.84" text-anchor="start">Taurine_and_hypotaurine_metabolism</text><text class="dv" transform="translate(1597.7 1931.51) scale(1.0395 1)" font-size="16.84" text-anchor="start">Steroid_biosynthesis</text><text class="dv" transform="translate(1597.7 1955.65) scale(1.0395 1)" font-size="16.84" text-anchor="start">Riboflavin_metabolism</text><text class="dv" transform="translate(1597.7 1979.78) scale(1.0395 1)" font-size="16.84" text-anchor="start">Fatty_acid_elongation</text><text class="dv" transform="translate(1597.7 2003.92) scale(1.0395 1)" font-size="16.84" text-anchor="start">Steroid_hormone_biosynthesis</text><text class="dv" transform="translate(1597.7 2028.05) scale(1.0395 1)" font-size="16.84" text-anchor="start">Nitrotoluene_degradation</text><text class="dv" transform="translate(1597.7 2052.19) scale(1.0395 1)" font-size="16.84" text-anchor="start">Carbon_fixation_pathways_in_prokaryotes</text><text class="dv" transform="translate(1597.7 2076.32) scale(1.0395 1)" font-size="16.84" text-anchor="start">Atrazine_degradation</text><text class="dv" transform="translate(1597.7 2100.46) scale(1.0395 1)" font-size="16.84" text-anchor="start">Penicillin_and_cephalosporin_biosynthesis</text><text class="dv" transform="translate(1597.7 2124.59) scale(1.0395 1)" font-size="16.84" text-anchor="start">Caprolactam_degradation</text><text class="dv" transform="translate(1597.7 2148.73) scale(1.0395 1)" font-size="16.84" text-anchor="start">Sulfur_metabolism</text><text class="dv" transform="translate(1597.7 2172.86) scale(1.0395 1)" font-size="16.84" text-anchor="start">Ubiquinone_and_other_terpenoid_quinone_biosynthesis</text><text class="dv" transform="translate(1597.7 2197) scale(1.0395 1)" font-size="16.84" text-anchor="start">Fatty_acid_biosynthesis</text><text class="dv" transform="translate(1597.7 2221.13) scale(1.0395 1)" font-size="16.84" text-anchor="start">Biosynthesis_of_unsaturated_fatty_acids</text><text class="dv" transform="translate(1597.7 2245.27) scale(1.0395 1)" font-size="16.84" text-anchor="start">Geraniol_degradation</text><text class="dv" transform="translate(1597.7 2269.4) scale(1.0395 1)" font-size="16.84" text-anchor="start">Citrate_cycle_TCA_cycle</text><text class="dv" transform="translate(1597.7 2293.54) scale(1.0395 1)" font-size="16.84" text-anchor="start">Naphthalene_degradation</text><text class="dv" transform="translate(1597.7 2317.67) scale(1.0395 1)" font-size="16.84" text-anchor="start">Biotin_metabolism</text><text class="dv" transform="translate(1597.7 2341.81) scale(1.0395 1)" font-size="16.84" text-anchor="start">Lipoic_acid_metabolism</text><text class="dv" transform="translate(1597.7 2365.94) scale(1.0395 1)" font-size="16.84" text-anchor="start">Glycosaminoglycan_degradation</text><text class="dv" transform="translate(1597.7 2390.08) scale(1.0395 1)" font-size="16.84" text-anchor="start">Lipopolysaccharide_biosynthesis</text>
<text class="dv" transform="translate(1147.6 2428.7) scale(1.0395 1)" font-size="20.2" text-anchor="middle">−4</text>
<text class="dv" transform="translate(1257.65 2428.7) scale(1.0395 1)" font-size="20.2" text-anchor="middle">−3</text>
<text class="dv" transform="translate(1367.7 2428.7) scale(1.0395 1)" font-size="20.2" text-anchor="middle">−2</text>
<text class="dv" transform="translate(1477.75 2428.7) scale(1.0395 1)" font-size="20.2" text-anchor="middle">−1</text>
<text class="dv" transform="translate(1587.8 2428.7) scale(1.0395 1)" font-size="20.2" text-anchor="middle">0</text>
<text class="dv" transform="translate(1697.85 2428.7) scale(1.0395 1)" font-size="20.2" text-anchor="middle">1</text>
<text class="dv" transform="translate(1807.9 2428.7) scale(1.0395 1)" font-size="20.2" text-anchor="middle">2</text>
<text class="dv" transform="translate(1917.95 2428.7) scale(1.0395 1)" font-size="20.2" text-anchor="middle">3</text>
<text class="dv" transform="translate(2028 2428.7) scale(1.0395 1)" font-size="20.2" text-anchor="middle">4</text>
<text class="dv" transform="translate(1587.8 2457.9) scale(1.0395 1)" font-size="20.2" text-anchor="middle">LDA SCORE (log 10)</text>
<text class="ar" x="20.4" y="27.6" font-size="39.6">A. Discriminant gut bacteria – 65% RS vs all NS diets</text>
<text class="ar" x="1091.1" y="27.8" font-size="39.6">B. Discriminant gut bacteria – 20% RS vs all NS diets</text>
<text class="ar" x="21.5" y="1195.1" font-size="39.6">C. Discriminant predicted microbial metabolic</text>
<text class="ar" x="21.5" y="1242.3" font-size="39.6">pathways – 65% RS vs all NS diets</text>
<text class="ar" x="1091.1" y="780" font-size="39.6">D. Discriminant predicted microbial</text>
<text class="ar" x="1091.1" y="827.7" font-size="39.6">metabolic pathways – 20% RS vs all NS diets</text>
<rect x="29.4" y="55" width="22.7" height="22.7" fill="#808080"/>
<text class="ar" x="59.4" y="79" font-size="23.85">P10 F20 C70 (All Suc / All NS)</text>
<rect x="424.2" y="55.1" width="22.7" height="22.7" fill="#0a2cfb"/>
<text class="ar" x="453.9" y="79.1" font-size="23.85">P10 F20 C70 (Suc 35 / RS 65)</text>
<rect x="1105.6" y="52.4" width="22.7" height="22.7" fill="#808080"/>
<text class="ar" x="1135.6" y="76.6" font-size="23.85">P10 F20 C70 (All Suc / All NS)</text>
<rect x="1500.4" y="52" width="22.7" height="22.7" fill="#fb3ffa"/>
<text class="ar" x="1529.8" y="76" font-size="23.85">P10 F20 C70 (Suc 80 / RS 20)</text>
<rect x="29.7" y="1270.2" width="22.7" height="22.7" fill="#808080"/>
<text class="ar" x="59.7" y="1293.8" font-size="23.85">P10 F20 C70 (All Suc / All NS)</text>
<rect x="424.9" y="1269.3" width="22.7" height="22.7" fill="#0a2cfb"/>
<text class="ar" x="454.4" y="1292.5" font-size="23.85">P10 F20 C70 (Suc 35 / RS 65)</text>
<rect x="1105" y="856.4" width="22.7" height="22.7" fill="#808080"/>
<text class="ar" x="1135" y="880" font-size="23.85">P10 F20 C70 (All Suc / All NS)</text>
<rect x="1500.2" y="855.9" width="22.7" height="22.7" fill="#fb3ffa"/>
<text class="ar" x="1529.7" y="879.4" font-size="23.85">P10 F20 C70 (Suc 80 / RS 20)</text>
</svg>
</body></html>
